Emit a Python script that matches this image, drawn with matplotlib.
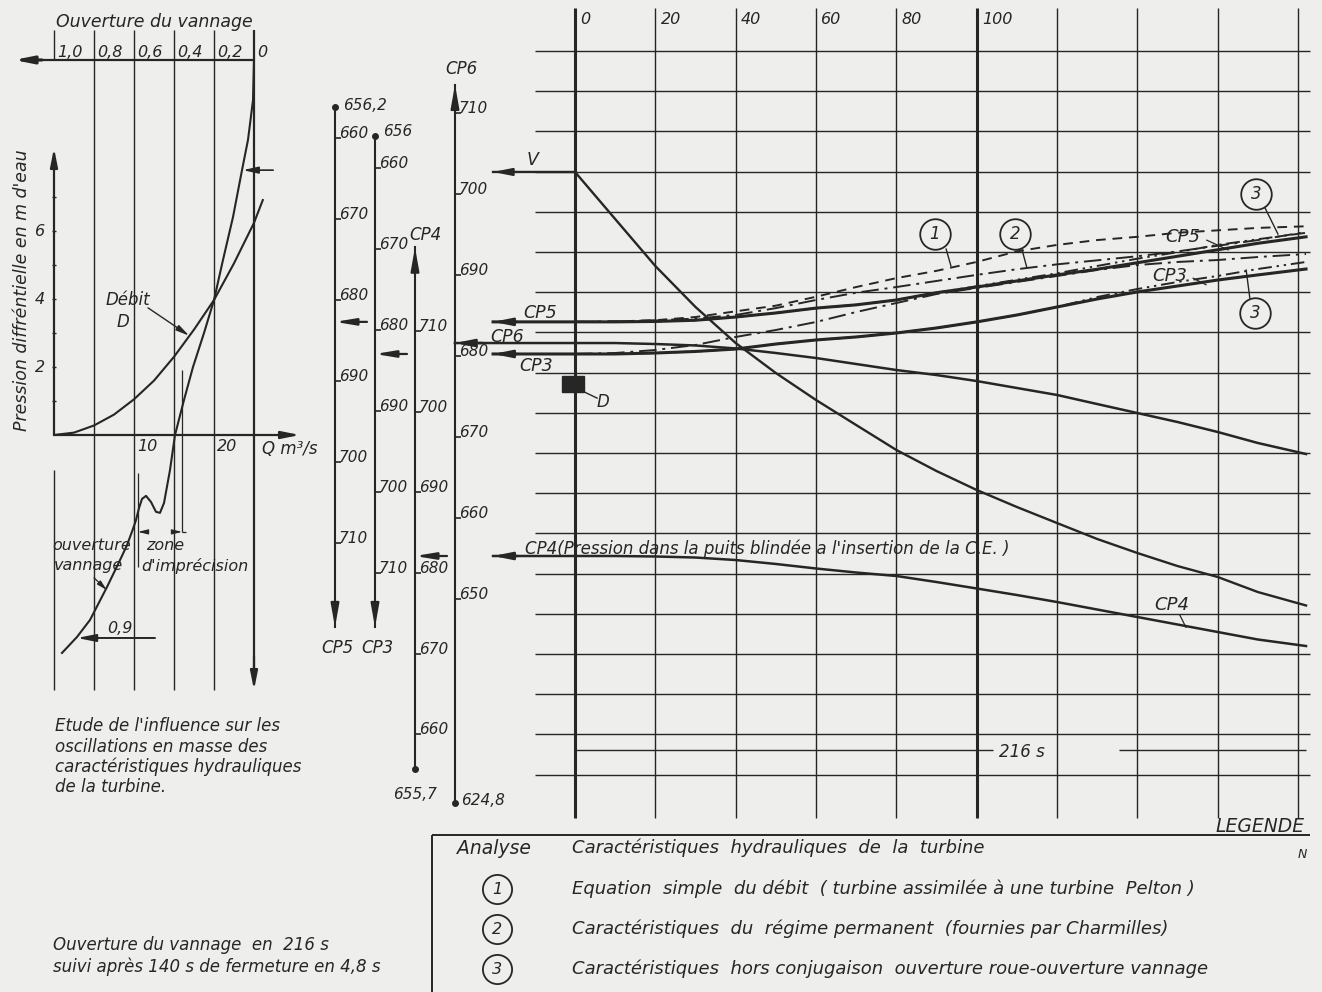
import matplotlib.pyplot as plt
from matplotlib.patches import Rectangle

plt.rcParams['font.family'] = ['DejaVu Sans']
plt.rcParams['font.style'] = 'italic'

INK = '#262626'
PAPER = '#eeeeec'
W, H = 1322, 992

# ---------------- values ----------------
# time of the read points (s)
t = [0, 10, 20, 30, 40, 50, 60, 70, 80, 90, 100, 110, 120, 130, 140, 150, 160, 170, 182]

# CP5 level (m, CP5 scale): measured + calculations 1, 2, 3
cp5 = [682.7, 682.7, 682.65, 682.5, 682.1, 681.6, 681.0, 680.6, 680.0, 679.1,
       678.4, 677.65, 676.9, 676.2, 675.4, 674.6, 673.8, 673.0, 672.2]
cp5_1 = [682.7, 682.65, 682.5, 682.1, 681.4, 680.7, 679.6, 678.4, 677.3, 676.4,
         675.3, 674.0, 673.2, 672.6, 672.2, 671.7, 671.4, 671.1, 670.9]
cp5_2 = [682.7, 682.65, 682.5, 682.3, 681.85, 681.0, 680.0, 679.1, 678.4, 677.65,
         676.9, 676.2, 675.6, 675.1, 674.6, 674.0, 673.3, 672.6, 671.6]
cp5_3 = [682.7, 682.7, 682.65, 682.5, 682.1, 681.6, 681.0, 680.6, 680.0, 679.1,
         678.3, 677.5, 676.7, 675.8, 674.9, 674.1, 673.2, 672.5, 671.7]

# CP3 level (m, CP3 scale)
cp3 = [682.96, 682.96, 682.84, 682.65, 682.35, 681.73, 681.23, 680.86, 680.37, 679.75,
       679.0, 678.15, 677.16, 676.17, 675.3, 674.57, 673.83, 673.2, 672.47]
cp3_2 = [682.96, 682.84, 682.47, 681.85, 680.86, 680.0, 679.01, 677.78, 676.67, 675.56,
         674.81, 674.07, 673.33, 672.59, 671.98, 671.6, 671.36, 670.99, 670.62]
cp3_3 = [682.96, 682.96, 682.84, 682.65, 682.35, 681.73, 681.23, 680.86, 680.37, 679.75,
         679.0, 678.15, 677.16, 675.93, 674.94, 674.07, 673.33, 672.47, 671.6]

# CP6 level (m, CP6 scale)
cp6 = [681.6, 681.6, 681.48, 681.3, 680.93, 680.37, 679.75, 679.01, 678.27, 677.65,
       676.91, 676.05, 675.19, 674.07, 672.96, 671.85, 670.62, 669.26, 667.9]
# gate opening V, read on the CP6 scale
vann = [702.72, 696.91, 691.11, 686.05, 681.6, 677.9, 674.57, 671.48, 668.4, 665.8,
        663.46, 661.36, 659.38, 657.41, 655.68, 654.07, 652.72, 650.86, 649.2]
# CP4 level (m, CP4 scale)
cp4 = [682.11, 682.11, 682.05, 681.92, 681.61, 681.12, 680.56, 680.06, 679.63, 678.88,
       678.08, 677.27, 676.4, 675.47, 674.54, 673.61, 672.68, 671.75, 670.94]

lead_t = -20.4        # reference lines start left of t = 0
cp6_lead_t = -29.9
d_t, d_lvl = -0.5, 676.5
mark_216 = 631.4

time_ticks = [0, 20, 40, 60, 80, 100, 120, 140, 160, 180]
time_labels = ['0', '20', '40', '60', '80', '100', '', '', '', '']
divisions = list(range(19))

cp5_ticks = [660, 670, 680, 690, 700, 710]
cp3_ticks = [660, 670, 680, 690, 700, 710]
cp4_ticks = [660, 670, 680, 690, 700, 710]
cp6_ticks = [650, 660, 670, 680, 690, 700, 710]

# left panel: gate opening / discharge / differential pressure
open_ticks = [1.0, 0.8, 0.6, 0.4, 0.2, 0.0]
open_labels = ['1,0', '0,8', '0,6', '0,4', '0,2', '0']
q_debit = [0, 2.5, 5, 7.5, 10, 12.5, 15, 17.5, 20, 22.5, 25, 26.1]
p_debit = [0, 0.07, 0.28, 0.6, 1.05, 1.6, 2.3, 3.1, 3.97, 5.05, 6.24, 6.91]
q_gate = [25, 24.875, 24.25, 23.5, 22.375, 21.125, 20, 18.75, 17.375, 16.25, 15.125,
          14.5, 13.75, 13.25, 12.75, 12.125, 11.5, 11.0, 10.625, 10.25, 9.875, 9.125,
          8.25, 6.625, 4.5, 2.875, 1.0]
p_gate = [11.03, 9.85, 8.68, 7.79, 6.41, 5.15, 3.97, 3.0, 2.0, 1.03, 0,
          -1.03, -2.0, -2.29, -2.26, -1.97, -1.79, -1.88, -2.15, -2.5, -2.76, -3.24,
          -3.68, -4.47, -5.44, -5.94, -6.41]
p_ticks = [1, 2, 3, 4, 5, 6, 7]

fig = plt.figure(figsize=(13.22, 9.92), dpi=100, facecolor=PAPER)


def overlay(x0, sx, y0, sy, xv0=0, yv0=0):
    # data x -> pixel x0 + sx*(x - xv0), data y -> pixel (from top) y0 - sy*(y - yv0)
    ax = fig.add_axes([0, 0, 1, 1], facecolor='none')
    ax.set_xlim(xv0 - x0 / sx, xv0 + (W - x0) / sx)
    ax.set_ylim(yv0 + (y0 - H) / sy, yv0 + y0 / sy)
    ax.axis('off')
    return ax


def arrow(ax, xy, xytext, lw=1.4, hl=1.1, hw=0.22):
    ax.annotate('', xy=xy, xytext=xytext, annotation_clip=False,
                arrowprops=dict(arrowstyle=f'-|>,head_length={hl},head_width={hw}',
                                lw=lw, color=INK, shrinkA=0, shrinkB=0))


def scale_bar(xpx, y0, s, v0, ticks, lo, hi):
    ax = fig.add_axes([xpx / W, 0, 1 / W, 1], facecolor='none')
    ax.set_ylim(v0 + (y0 - H) / s, v0 + y0 / s)
    ax.set_xlim(0, 1)
    for side in ['top', 'right', 'bottom']:
        ax.spines[side].set_visible(False)
    ax.spines['left'].set_bounds(lo, hi)
    ax.spines['left'].set_linewidth(1.5)
    ax.spines['left'].set_color(INK)
    ax.xaxis.set_visible(False)
    ax.set_yticks(ticks, labels=[str(v) for v in ticks], va='baseline', fontsize=11, color=INK)
    ax.tick_params(axis='y', direction='in', length=4, width=1.2, color=INK, left=True,
                   right=False, labelleft=False, labelright=True, pad=2)
    ax.plot([0], [lo], 'o', ms=4, color=INK, clip_on=False)
    ax.annotate('', xy=(0, hi), xytext=(0, hi - 2.6), annotation_clip=False,
                arrowprops=dict(arrowstyle='-|>,head_length=1.4,head_width=0.25',
                                lw=1.5, color=INK, shrinkA=0, shrinkB=0))
    return ax


def bar_text(ax, txt, v, dx, dy, ha='left', va='center', size=11):
    ax.annotate(txt, xy=(0, v), xytext=(dx, dy), textcoords='offset pixels',
                ha=ha, va=va, fontsize=size, color=INK, annotation_clip=False)


def bar_marker(ax, v):
    ax.annotate('', xy=(0, v), xytext=(32, 0), textcoords='offset pixels',
                annotation_clip=False,
                arrowprops=dict(arrowstyle='-|>,head_length=1.2,head_width=0.2',
                                lw=1.6, color=INK, shrinkA=0, shrinkB=0))


# ---------------- main chart ----------------
axg = overlay(575, 4.0167, 51, -40.2)
axg.hlines(divisions, -10, 183, color=INK, lw=1.0)
axg.vlines(time_ticks, -1.07, 19.08, color=INK,
           lw=[2.2 if tt in (0, 100) else 1.0 for tt in time_ticks])

ax6 = overlay(575, 4.0167, 356, 8.1, 0, 680)
ax5 = overlay(575, 4.0167, 138, -8.1, 0, 660)
ax3 = overlay(575, 4.0167, 168, -8.1, 0, 660)
ax4 = overlay(575, 4.0167, 573, 8.06, 0, 680)

for tt, lab in zip(time_ticks, time_labels):
    ax6.text(tt + 1.3, 721.5, lab, ha='left', va='center', fontsize=11.5, color=INK)

# CP5 family
ax5.plot([lead_t] + t, [cp5[0]] + cp5, color=INK, lw=2.2)
ax5.plot(t, cp5_1, color=INK, lw=1.4, dashes=(5, 3.5))
ax5.plot(t, cp5_2, color=INK, lw=1.4, dashes=(9, 3, 1.5, 3))
ax5.plot(t, cp5_3, color=INK, lw=1.4, dashes=(7, 2.5, 1.2, 2.5, 1.2, 2.5))
arrow(ax5, (lead_t, cp5[0]), (lead_t + 6, cp5[0]), lw=1.8)

# CP3 family
ax3.plot([lead_t] + t, [cp3[0]] + cp3, color=INK, lw=2.2)
ax3.plot(t, cp3_2, color=INK, lw=1.4, dashes=(9, 3, 1.5, 3))
ax3.plot(t, cp3_3, color=INK, lw=1.4, dashes=(7, 2.5, 1.2, 2.5, 1.2, 2.5))
arrow(ax3, (lead_t, cp3[0]), (lead_t + 6, cp3[0]), lw=1.8)

# CP6, gate opening V, CP4
ax6.plot([cp6_lead_t] + t, [cp6[0]] + cp6, color=INK, lw=1.8)
arrow(ax6, (cp6_lead_t, cp6[0]), (cp6_lead_t + 7, cp6[0]), lw=1.8)
ax6.plot([lead_t] + t, [vann[0]] + vann, color=INK, lw=1.7)
arrow(ax6, (lead_t, vann[0]), (lead_t + 6, vann[0]), lw=1.5)
ax4.plot([lead_t] + t, [cp4[0]] + cp4, color=INK, lw=1.8)
arrow(ax4, (lead_t, cp4[0]), (lead_t + 6, cp4[0]), lw=1.8)

ax6.add_patch(Rectangle((d_t - 2.75, d_lvl - 1.0), 5.5, 2.0, color=INK))
ax6.plot([d_t + 1.8, d_t + 6.0], [d_lvl - 0.7, d_lvl - 1.7], color=INK, lw=1.0)
ax6.text(7.0, 674.3, 'D', fontsize=12, ha='center', va='center', color=INK)

# 216 s dimension
ax6.hlines(mark_216, 0, 104, color=INK, lw=1.0)
ax6.hlines(mark_216, 135.5, 182, color=INK, lw=1.0)
ax6.text(111.3, 631.1, '216 s', fontsize=12, ha='center', va='center', color=INK)

# labels on the main chart
txt = dict(fontsize=12.5, color=INK, ha='center', va='center')
ax6.text(-10.5, 704.2, 'V', **txt)
ax6.text(-8.7, 685.3, 'CP5', **txt)
ax6.text(-16.9, 682.35, 'CP6', **txt)
ax6.text(-9.7, 678.77, 'CP3', **txt)
ax6.text(-12.45, 656.2, "CP4(Pression dans la puits blindée a l'insertion de la C.E. )",
         fontsize=12, color=INK, ha='left', va='center')
rtxt = dict(fontsize=13, color=INK, ha='center', va='center')
ax6.text(148.6, 649.26, 'CP4', **rtxt)
ax6.plot([150.6, 152.1], [648.0, 646.5], color=INK, lw=0.9)
ax6.text(151.4, 694.7, 'CP5', **rtxt)
ax6.plot([157.3, 162.6], [694.3, 693.1], color=INK, lw=0.9)
ax6.text(148.1, 689.9, 'CP3', **rtxt)
ax6.plot([153.9, 157.1], [689.6, 688.8], color=INK, lw=0.9)

circles = [(89.6, 695.06, '1', [92.4, 93.6], [693.2, 691.1]),
           (109.5, 695.06, '2', [111.3, 112.5], [693.1, 690.9]),
           (169.5, 700.0, '3', [171.8, 175.0], [698.27, 695.06]),
           (169.3, 685.3, '3', [168.0, 167.1], [687.16, 690.6])]
for ct, cv, num, lx, ly in circles:
    ax6.plot([ct], [cv], 'o', ms=22, mfc=PAPER, mec=INK, mew=1.3)
    ax6.text(ct, cv, num, fontsize=12, color=INK, ha='center', va='center')
    ax6.plot(lx, ly, color=INK, lw=1.0)

# ---------------- level scales ----------------
bar5 = scale_bar(335, 138, -8.1, 660, cp5_ticks, 656.2, 720.4)
bar_text(bar5, '656,2', 656.2, 8, 2)
bar_text(bar5, 'CP5', 720.4, 2, -12, ha='center', va='top', size=12)
bar_marker(bar5, cp5[0])

bar3 = scale_bar(375, 168, -8.1, 660, cp3_ticks, 656.0, 716.7)
bar_text(bar3, '656', 656.0, 8, 4)
bar_text(bar3, 'CP3', 716.7, 2, -12, ha='center', va='top', size=12)
bar_marker(bar3, cp3[0])

bar4 = scale_bar(415, 573, 8.06, 680, cp4_ticks, 655.7, 720.4)
bar_text(bar4, '655,7', 655.7, 0, -26, ha='center')
bar_text(bar4, 'CP4', 720.4, 10, 3, ha='center', va='bottom', size=12)
bar_marker(bar4, cp4[0])

bar6 = scale_bar(455, 356, 8.1, 680, cp6_ticks, 624.8, 713.5)
bar_text(bar6, '624,8', 624.8, 6, 3)
bar_text(bar6, 'CP6', 713.5, 6, 7, ha='center', va='bottom', size=12)

# ---------------- left panel ----------------
axq = overlay(54, 8, 435, 34)
q_lines = [25.0 * (1 - o) for o in open_ticks]
axq.vlines(q_lines[1:5], -7.5, 11.9, color=INK, lw=1.0)
axq.vlines(0, 11.03, 11.9, color=INK, lw=1.0)
axq.vlines(0, -7.5, -1.03, color=INK, lw=1.0)
axq.vlines(q_lines[5], -7.0, 11.9, color=INK, lw=1.6)
arrow(axq, (q_lines[5], -7.5), (q_lines[5], -6.5), lw=1.6)
axq.hlines(11.03, -2, q_lines[5], color=INK, lw=1.6)
arrow(axq, (-5, 11.03), (-1.5, 11.03), lw=2.2)
for q, lab in zip(q_lines, open_labels):
    axq.text(q + 0.4, 11.26, lab, fontsize=11.5, color=INK, ha='left', va='center')
axq.text(12.6, 12.15, 'Ouverture du vannage', fontsize=12.5, color=INK, ha='center', va='center')

arrow(axq, (0, 8.44), (0, 0), lw=1.6)
arrow(axq, (30.75, 0), (0, 0), lw=1.6)
axq.hlines(p_ticks, -0.25, 0.25, color=INK, lw=1.0)
for p in [2, 4, 6]:
    axq.text(-1.75, p, str(p), fontsize=11.5, color=INK, ha='center', va='center')
axq.text(10.4, -0.33, '10', fontsize=11.5, color=INK, ha='left', va='center')
axq.text(20.4, -0.33, '20', fontsize=11.5, color=INK, ha='left', va='center')
axq.text(26.0, -0.41, 'Q m³/s', fontsize=12, color=INK, ha='left', va='center')
axq.text(-4.0, 4.26, "Pression diffréntielle en m d'eau", fontsize=12.5, color=INK,
         rotation=90, ha='center', va='center')

axq.plot(q_debit, p_debit, color=INK, lw=1.5)
axq.plot(q_gate, p_gate, color=INK, lw=1.5)
arrow(axq, (23.6, 7.79), (27.4, 7.79), lw=1.2, hl=0.9, hw=0.2)
axq.text(9.25, 3.97, 'Débit', fontsize=12, color=INK, ha='center', va='center')
axq.text(8.6, 3.32, 'D', fontsize=12, color=INK, ha='center', va='center')
arrow(axq, (16.9, 2.92), (11.75, 3.74), lw=1.0, hl=0.8, hw=0.18)

axq.vlines(10.5, -3.88, -1.12, color=INK, lw=0.9)
axq.vlines(16.0, -2.85, 1.91, color=INK, lw=0.9)
axq.hlines(-2.85, 16.0, 16.5, color=INK, lw=0.9)
arrow(axq, (10.5, -2.85), (11.4, -2.85), lw=0.8, hl=0.6, hw=0.15)
arrow(axq, (16.0, -2.85), (15.1, -2.85), lw=0.8, hl=0.6, hw=0.15)
axq.text(4.75, -3.26, 'ouverture', fontsize=11.5, color=INK, ha='center', va='center')
axq.text(4.25, -3.85, 'vannage', fontsize=11.5, color=INK, ha='center', va='center')
arrow(axq, (6.6, -4.56), (5.0, -4.2), lw=0.9, hl=0.6, hw=0.15)
axq.text(13.9, -3.26, 'zone', fontsize=11.5, color=INK, ha='center', va='center')
axq.text(17.6, -3.85, "d'imprécision", fontsize=11.5, color=INK, ha='center', va='center')
arrow(axq, (2.875, -5.97), (12.625, -5.97), lw=1.4)
axq.text(8.25, -5.9, '0,9', fontsize=11.5, color=INK, ha='center', va='bottom')

# ---------------- notes and legend ----------------
axp = overlay(0, 1, 0, -1)
note = dict(fontsize=12, color=INK, ha='left', va='center')
for i, line in enumerate(["Etude de l'influence sur les", 'oscillations en masse des',
                          'caractéristiques hydrauliques', 'de la turbine.']):
    axp.text(55, 726 + 20.5 * i, line, **note)
axp.text(53, 945, 'Ouverture du vannage  en  216 s', **note)
axp.text(53, 967, 'suivi après 140 s de fermeture en 4,8 s', **note)

axp.hlines(835, 432, 1310, color=INK, lw=1.4)
axp.vlines(432, 835, 992, color=INK, lw=1.4)
axp.text(1305, 826, 'LEGENDE', fontsize=13.5, color=INK, ha='right', va='center')
axp.text(1302, 855, 'N', fontsize=9, color=INK, ha='center', va='center')
axp.text(457, 848, 'Analyse', fontsize=13.5, color=INK, ha='left', va='center')
axp.text(572, 848, 'Caractéristiques  hydrauliques  de  la  turbine', fontsize=13,
         color=INK, ha='left', va='center')
legend_rows = ['Equation  simple  du débit  ( turbine assimilée à une turbine  Pelton )',
               'Caractéristiques  du  régime permanent  (fournies par Charmilles)',
               'Caractéristiques  hors conjugaison  ouverture roue-ouverture vannage']
for i, row in enumerate(legend_rows):
    yy = 889 + 40 * i
    axp.plot([497], [yy], 'o', ms=21, mfc='none', mec=INK, mew=1.3)
    axp.text(497, yy, str(i + 1), fontsize=11.5, color=INK, ha='center', va='center')
    axp.text(572, yy, row, fontsize=13, color=INK, ha='left', va='center')

fig.savefig('out.png', dpi=100, facecolor=PAPER)
